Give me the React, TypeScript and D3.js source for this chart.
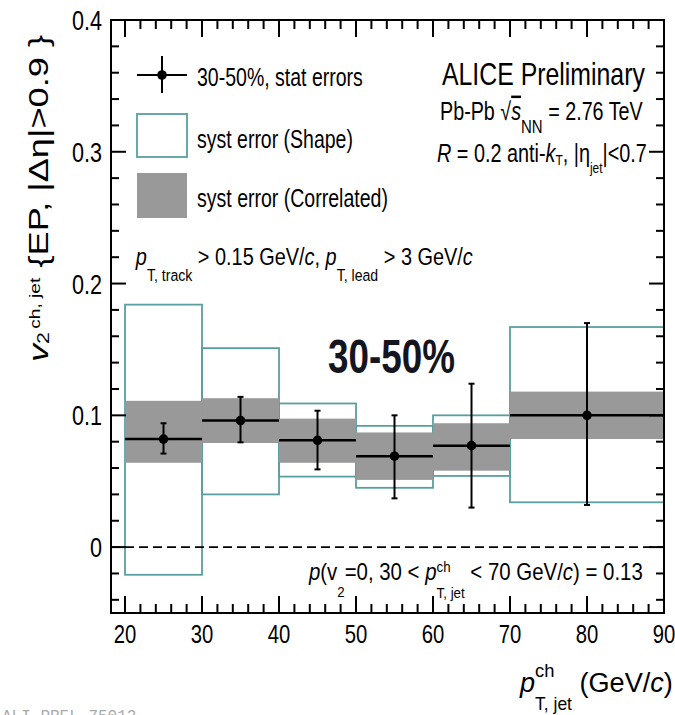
import React, { useLayoutEffect, useRef, useState } from "react";
import * as d3 from "d3";

// ---------- data ----------
const binLow = [20, 30, 40, 50, 60, 70];
const binHigh = [30, 40, 50, 60, 70, 90];
const binCenter = [25, 35, 45, 55, 65, 80];
const v2 = [0.082, 0.096, 0.081, 0.069, 0.077, 0.1];
const statLow = [0.071, 0.0795, 0.059, 0.037, 0.03, 0.032];
const statHigh = [0.094, 0.114, 0.1035, 0.1, 0.124, 0.17];
const shapeLow = [-0.021, 0.04, 0.0535, 0.045, 0.054, 0.034];
const shapeHigh = [0.184, 0.151, 0.109, 0.092, 0.1, 0.167];
const corrLow = [0.064, 0.079, 0.064, 0.051, 0.058, 0.082];
const corrHigh = [0.111, 0.113, 0.0975, 0.087, 0.094, 0.118];

const yTickLabels = [0, 0.1, 0.2, 0.3, 0.4];
const xTickLabels = [20, 30, 40, 50, 60, 70, 80, 90];
const yMinorTicks = d3.range(-0.04, 0.4001, 0.02);
const xMinorTicks = d3.range(20, 90.001, 2);

const FONT = "'Liberation Sans', Arial, Helvetica, sans-serif";
const TEAL = "#5a9f9f";
const GRAY = "#999999";

type FitProps = {
  x0: number;
  x1: number;
  y: number;
  rotate?: boolean;
  sy?: number;
  children?: React.ReactNode;
  [k: string]: any;
};

function Fit({ x0, x1, y, rotate = false, sy = 1, children, ...rest }: FitProps) {
  const ref = useRef<SVGTextElement>(null);
  const [m, setM] = useState<{ s: number; bx: number } | null>(null);
  useLayoutEffect(() => {
    if (!ref.current) return;
    const bb = ref.current.getBBox();
    const len = Math.abs(x1 - x0);
    setM({ s: len / bb.width, bx: bb.x });
  }, []);
  const s = m ? m.s : 1;
  const bx = m ? m.bx : 0;
  const transform = rotate
    ? `translate(${y},${x0}) rotate(-90) scale(${s},${sy}) translate(${-bx},0)`
    : `translate(${x0},${y}) scale(${s},${sy}) translate(${-bx},0)`;
  return (
    <text ref={ref} transform={transform} fontFamily={FONT} fill="#000" {...rest}>
      {children}
    </text>
  );
}

export default function App() {
  const W = 675;
  const H = 715;
  const left = 111;
  const right = 664;
  const top = 20;
  const bottom = 613;

  const x = d3.scaleLinear().domain([18.18, 90]).range([left, right]);
  const y = d3.scaleLinear().domain([-0.05, 0.4]).range([bottom, top]);

  const isMajorY = (v: number) => Math.abs(v * 10 - Math.round(v * 10)) < 1e-6;
  const isMajorX = (v: number) => Math.abs(v % 10) < 1e-6;

  return (
    <svg
      width={W}
      height={H}
      style={{ position: "absolute", left: 0, top: 0, background: "#fff" }}
    >
      <rect x={0} y={0} width={W} height={H} fill="#fff" />

      {/* shape systematic boxes */}
      {binLow.map((b, i) => (
        <rect
          key={"s" + i}
          x={x(b)}
          y={y(shapeHigh[i])}
          width={x(binHigh[i]) - x(b)}
          height={y(shapeLow[i]) - y(shapeHigh[i])}
          fill="none"
          stroke={TEAL}
          strokeWidth={1.8}
        />
      ))}
      {/* correlated systematic bands */}
      {binLow.map((b, i) => (
        <rect
          key={"c" + i}
          x={x(b)}
          y={y(corrHigh[i])}
          width={x(binHigh[i]) - x(b)}
          height={y(corrLow[i]) - y(corrHigh[i])}
          fill={GRAY}
        />
      ))}

      {/* zero line */}
      <line
        x1={left}
        x2={right}
        y1={y(0)}
        y2={y(0)}
        stroke="#000"
        strokeWidth={1.6}
        strokeDasharray="9,5"
      />

      {/* central values */}
      {binLow.map((b, i) => (
        <g key={"d" + i}>
          <line
            x1={x(b)}
            x2={x(binHigh[i])}
            y1={y(v2[i])}
            y2={y(v2[i])}
            stroke="#000"
            strokeWidth={2.5}
          />
          <line
            x1={x(binCenter[i])}
            x2={x(binCenter[i])}
            y1={y(statLow[i])}
            y2={y(statHigh[i])}
            stroke="#000"
            strokeWidth={2}
          />
          <line
            x1={x(binCenter[i]) - 3}
            x2={x(binCenter[i]) + 3}
            y1={y(statLow[i])}
            y2={y(statLow[i])}
            stroke="#000"
            strokeWidth={2}
          />
          <line
            x1={x(binCenter[i]) - 3}
            x2={x(binCenter[i]) + 3}
            y1={y(statHigh[i])}
            y2={y(statHigh[i])}
            stroke="#000"
            strokeWidth={2}
          />
          <circle cx={x(binCenter[i])} cy={y(v2[i])} r={4.8} fill="#000" />
        </g>
      ))}

      {/* frame */}
      <rect
        x={left}
        y={top}
        width={right - left}
        height={bottom - top}
        fill="none"
        stroke="#000"
        strokeWidth={2}
      />

      {/* y ticks (left and right) */}
      {yMinorTicks.map((v, i) => {
        const len = isMajorY(v) ? 15 : 8;
        return (
          <g key={"yt" + i}>
            <line x1={left} x2={left + len} y1={y(v)} y2={y(v)} stroke="#000" strokeWidth={2} />
            <line x1={right} x2={right - len} y1={y(v)} y2={y(v)} stroke="#000" strokeWidth={2} />
          </g>
        );
      })}
      {/* x ticks (bottom and top) */}
      {xMinorTicks.map((v, i) => {
        const len = isMajorX(v) ? 17 : 9;
        return (
          <g key={"xt" + i}>
            <line x1={x(v)} x2={x(v)} y1={bottom} y2={bottom - len} stroke="#000" strokeWidth={2} />
            <line x1={x(v)} x2={x(v)} y1={top} y2={top + len} stroke="#000" strokeWidth={2} />
          </g>
        );
      })}

      {/* y tick labels */}
      {yTickLabels.map((v) => (
        <text
          key={"yl" + v}
          transform={`translate(102,${y(v) + 10}) scale(0.8,1)`}
          textAnchor="end"
          fontFamily={FONT}
          fontSize={27}
        >
          {v === 0 ? "0" : v.toFixed(1)}
        </text>
      ))}
      {/* x tick labels */}
      {xTickLabels.map((v) => (
        <text
          key={"xl" + v}
          transform={`translate(${x(v)},643) scale(0.78,1)`}
          textAnchor="middle"
          fontFamily={FONT}
          fontSize={26}
        >
          {v}
        </text>
      ))}

      {/* legend */}
      <line x1={137} x2={187} y1={75} y2={75} stroke="#000" strokeWidth={2} />
      <line x1={162} x2={162} y1={56} y2={93} stroke="#000" strokeWidth={2} />
      <circle cx={162} cy={75} r={4.8} fill="#000" />
      <rect x={137} y={114} width={50} height={43} fill="#fff" stroke={TEAL} strokeWidth={1.8} />
      <rect x={137} y={173} width={50} height={45} fill={GRAY} />
      <Fit x0={197} x1={363} y={86} fontSize={25}>
        30-50%, stat errors
      </Fit>
      <Fit x0={197} x1={353} y={148} fontSize={25}>
        syst error (Shape)
      </Fit>
      <Fit x0={197} x1={388} y={207} fontSize={25}>
        syst error (Correlated)
      </Fit>

      {/* ALICE label */}
      <Fit x0={442} x1={645} y={85} fontSize={32}>
        ALICE Preliminary
      </Fit>
      <Fit x0={440} x1={643} y={120} fontSize={25}>
        Pb-Pb √
        <tspan fontStyle="italic" textDecoration="overline">s</tspan>
        <tspan fontSize={19} dy={13}>NN</tspan>
        <tspan dy={-13}> = 2.76 TeV</tspan>
      </Fit>
      <Fit x0={437} x1={647} y={162} fontSize={25}>
        <tspan fontStyle="italic">R</tspan>
        <tspan> = 0.2 anti-</tspan>
        <tspan fontStyle="italic">k</tspan>
        <tspan fontSize={15} dy={3}>T</tspan>
        <tspan dy={-3}>, |η</tspan>
        <tspan fontSize={15} dy={11}>jet</tspan>
        <tspan dy={-11}>|&lt;0.7</tspan>
      </Fit>

      {/* cuts */}
      <Fit x0={135} x1={473} y={265} fontSize={24}>
        <tspan fontStyle="italic">p</tspan>
        <tspan fontSize={17} dy={16}>T, track</tspan>
        <tspan dy={-16}> &gt; 0.15 GeV/</tspan>
        <tspan fontStyle="italic">c</tspan>
        <tspan>, </tspan>
        <tspan fontStyle="italic">p</tspan>
        <tspan fontSize={17} dy={16}>T, lead</tspan>
        <tspan dy={-16}> &gt; 3 GeV/</tspan>
        <tspan fontStyle="italic">c</tspan>
      </Fit>

      {/* centrality */}
      <Fit x0={328} x1={455} y={373} fontSize={48} fontWeight="bold" fill="#15151f">
        30-50%
      </Fit>

      {/* p-value */}
      <Fit x0={308} x1={643} y={580} fontSize={23}>
        <tspan fontStyle="italic">p</tspan>
        <tspan>(v</tspan>
        <tspan fontSize={15} dy={17}>2</tspan>
        <tspan dy={-17}>=0, 30 &lt; </tspan>
        <tspan fontStyle="italic">p</tspan>
        <tspan fontSize={15} dy={-8}>ch</tspan>
        <tspan fontSize={15} dx={-15.8} dy={26}>T, jet</tspan>
        <tspan dy={-18}> &lt; 70 GeV/</tspan>
        <tspan fontStyle="italic">c</tspan>
        <tspan>) = 0.13</tspan>
      </Fit>

      {/* x title */}
      <Fit x0={519} x1={673} y={692} fontSize={28}>
        <tspan fontStyle="italic">p</tspan>
        <tspan fontSize={19} dy={-15}>ch</tspan>
        <tspan fontSize={18} dx={-20} dy={33}>T, jet</tspan>
        <tspan dy={-18}> (GeV/</tspan>
        <tspan fontStyle="italic">c</tspan>
        <tspan>)</tspan>
      </Fit>

      {/* y title */}
      <Fit x0={362} x1={35} y={48} rotate sy={0.82} fontSize={34}>
        <tspan fontStyle="italic">v</tspan>
        <tspan fontSize={20} dy={1}>2</tspan>
        <tspan fontSize={18} dx={3} dy={-11}>ch, jet</tspan>
        <tspan dy={10}> {"{"}EP, |Δη|&gt;0.9 {"}"}</tspan>
      </Fit>

      {/* bottom preliminary id */}
      <text x={2} y={721} fontFamily="'Liberation Mono', 'Courier New', monospace" fontSize={16} fill="#aaaaaa">
        ALI-PREL-75012
      </text>
    </svg>
  );
}
